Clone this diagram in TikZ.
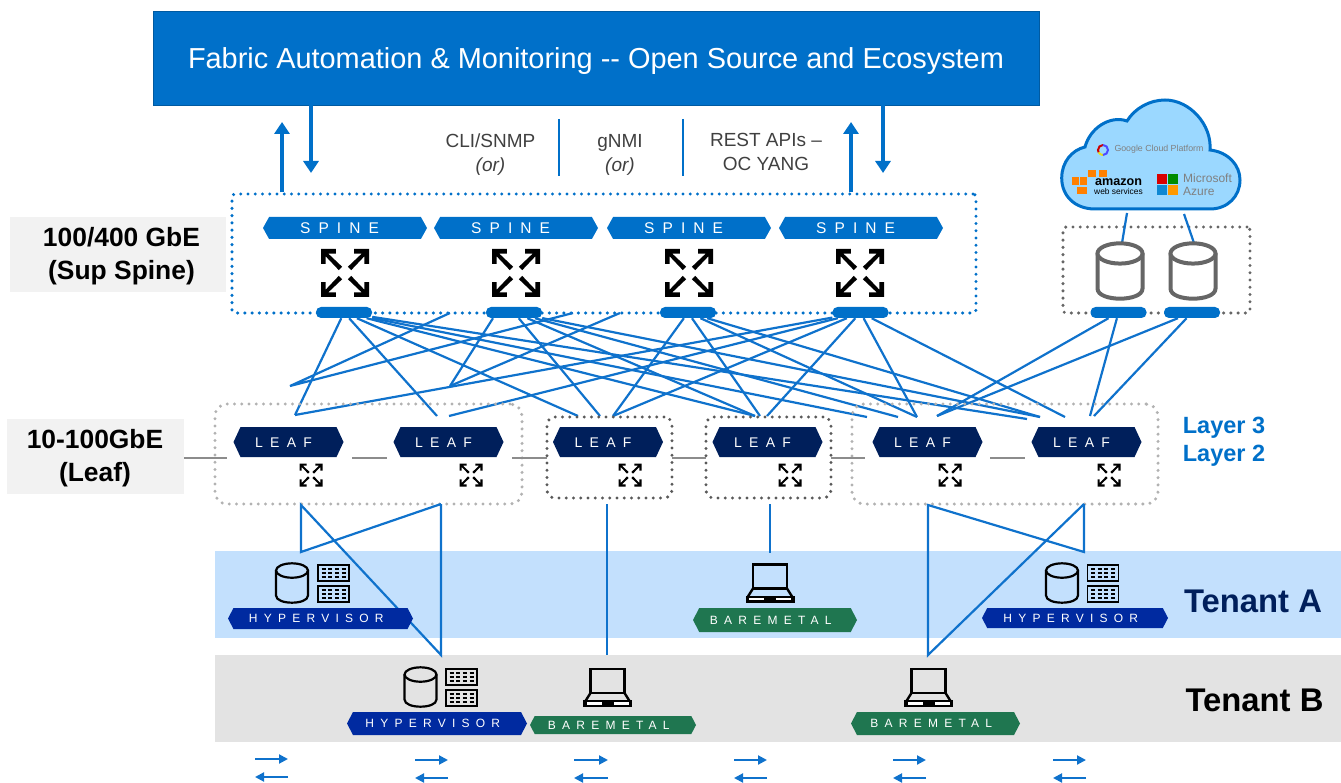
\documentclass[tikz,border=0pt]{standalone}
\usepackage{fontspec}
\usepackage{xcolor}
\setmainfont{Liberation Sans}
\newfontfamily\tagfont[LetterSpace=52]{Liberation Sans}
\usetikzlibrary{shapes.symbols, arrows.meta, positioning, calc}
\definecolor{fabblue}{HTML}{0070C9}
\definecolor{linkblue}{HTML}{0F72CC}
\definecolor{leafnavy}{HTML}{001F5B}
\definecolor{hyperblue}{HTML}{002AA0}
\definecolor{metalgreen}{HTML}{1F7650}
\definecolor{tenantablue}{HTML}{C3E0FD}
\definecolor{tenantbgray}{HTML}{E3E3E3}
\definecolor{labelgray}{HTML}{F2F2F2}
\definecolor{textgray}{HTML}{404040}
\definecolor{cloudblue}{HTML}{9BD8FF}
\newcommand{\expandhead}{(-1,-1) -- (-.38,-1) -- (-.38,-.81) -- (-.70,-.81) -- (-.12,-.26) -- (-.26,-.12) -- (-.81,-.70) -- (-.81,-.38) -- (-1,-.38) -- cycle}
\tikzset{
    expand/.pic={
        \fill \expandhead;
        \fill[xscale=-1] \expandhead;
        \fill[yscale=-1] \expandhead;
        \fill[xscale=-1,yscale=-1] \expandhead;
    },
    drum/.pic={
        \draw[pic actions] (-1,-.78) -- (-1,.78) .. controls (-1,1.38) and (1,1.38) .. (1,.78) -- (1,-.78);
        \draw[pic actions] (0,-.78) ellipse (1 and .45);
    },
    rackunit/.pic={
        \draw[line width=1.8pt] (-15.5,-8) rectangle (15.5,8);
        \draw[line width=1.7pt, dash pattern=on 4pt off 2.67pt] (-12,-4) -- (12,-4);
        \draw[line width=1.7pt, dash pattern=on 4pt off 2.67pt] (-12,0) -- (12,0);
        \draw[line width=1.7pt, dash pattern=on 4pt off 2.67pt] (-12,4) -- (12,4);
    },
    laptop/.pic={
        \draw[line width=2.8pt] (-17,-18.5) rectangle (17,5.5);
        \draw[line width=2.4pt] (-17,5.5) -- (-23,15);
        \draw[line width=2.4pt] (17,5.5) -- (23,15);
        \fill (-24.5,12.5) rectangle (24.5,19.5);
        \fill[white] (-21,14.5) rectangle (-6,17);
        \fill[white] (6,14.5) rectangle (21,17);
    }
}
\begin{document}
\begin{tikzpicture}[
    x=1pt, y=-1pt,
    tag/.style={signal, signal to=east and west, fill=#1, text=white, inner sep=0pt, text depth=0pt, execute at end node={\hspace{.7em}}},
    spinetag/.style={tag=fabblue, minimum width=164pt, minimum height=22pt, signal pointer angle=122, text height=11.1pt, font=\fontsize{15.5}{16}\tagfont},
    leaftag/.style={tag=leafnavy, minimum width=110pt, minimum height=30pt, signal pointer angle=130, text height=10pt, font=\fontsize{14}{15}\tagfont},
    hypertag/.style={tag=hyperblue, signal pointer angle=125, text height=8.6pt, font=\fontsize{12}{13}\tagfont},
    metaltag/.style={tag=metalgreen, signal pointer angle=125, text height=8.6pt, font=\fontsize{12}{13}\tagfont},
    pad/.style={rectangle, rounded corners=5pt, fill=fabblue, minimum width=56pt, minimum height=11pt, inner sep=0pt},
    dotbox/.style={rectangle, rounded corners=#1, line cap=round, dash pattern=on 0pt off 7.25pt, line width=3.4pt, inner sep=0pt},
    side/.style={rectangle, fill=labelgray, inner sep=0pt},
    sidetext/.style={inner sep=0pt, font=\fontsize{26.4}{33}\selectfont\bfseries, align=center},
    band/.style={rectangle, fill=#1, minimum width=1126pt, inner sep=0pt, minimum height=87pt},
    proto/.style={text=textgray, font=\fontsize{19}{24}\selectfont, align=center},
    link/.style={draw=linkblue, line width=2.2pt},
    isl/.style={draw=gray!90, line width=2pt},
    bigarrow/.style={draw=fabblue, line width=3.5pt, -{Triangle[length=12pt, width=15pt]}},
    smallarrow/.style={draw=linkblue, line width=2pt, -{Triangle[length=9pt, width=9pt]}}
]
\useasboundingbox (0,0) rectangle (1341,783);

% Fabric automation
\node[rectangle, fill=fabblue, draw=fabblue!80!black, minimum width=886pt, minimum height=94pt, text=white, text height=20.8pt, text depth=0pt, font=\fontsize{28.9}{30}\selectfont] (fabric) at (596,58) {Fabric Automation \& Monitoring -{}- Open Source and Ecosystem};
\coordinate (upa) at (282,122);
\coordinate (upb) at (851,122);
\coordinate (downa) at (311,173);
\coordinate (downb) at (883,173);

% Protocols
\node[proto] (cli) at (490.5,154.5) {CLI/SNMP\\\textit{(or)}};
\node[proto] (gnmi) at (620,154.5) {gNMI\\\textit{(or)}};
\node[proto] (rest) at (766,152) {REST APIs --\\OC YANG};
\coordinate (sepa) at (559,119);
\coordinate (sepb) at (559,176);
\coordinate (sepc) at (683,119);
\coordinate (sepd) at (683,176);
\draw[draw=fabblue, line width=2pt] (sepa) -- (sepb);
\draw[draw=fabblue, line width=2pt] (sepc) -- (sepd);

% Side labels
\node[side, minimum width=216pt, minimum height=75pt] (suplabel) at (118,254.5) {};
\node[sidetext] (suptext) at (121.5,256) {100/400 GbE\\(Sup Spine)};
\node[side, minimum width=177pt, minimum height=75pt] (leaflabel) at (95.5,456.5) {};
\node[sidetext] (leaftext) at (95,458.5) {10-100GbE\\(Leaf)};

% Spine
\node[dotbox=3pt, draw=fabblue, minimum width=744pt, minimum height=119pt] (spinefab) at (604,253.5) {};
\draw[bigarrow] (spinefab.north -| upa) -- (upa);
\draw[bigarrow] (spinefab.north -| upb) -- (upb);
\draw[bigarrow] (fabric.south -| downa) -- (downa);
\draw[bigarrow] (fabric.south -| downb) -- (downb);
\node[spinetag] (spinea) at (345,228) {SPINE};
\node[spinetag] (spineb) at (516,228) {SPINE};
\node[spinetag] (spinec) at (689,228) {SPINE};
\node[spinetag] (spined) at (861,228) {SPINE};
\pic[scale=24] at (345,273) {expand};
\pic[scale=24] at (516,273) {expand};
\pic[scale=24] at (689,273) {expand};
\pic[scale=24] at (860,273) {expand};
\node[pad] (pada) at (344,312.5) {};
\node[pad] (padb) at (514,312.5) {};
\node[pad] (padc) at (688,312.5) {};
\node[pad] (padd) at (860.5,312.5) {};

% Cloud
\draw[fill=cloudblue, draw=fabblue, line width=3pt] (1095,209) .. controls (1075,209) and (1061.7,196) .. (1061.7,178) .. controls (1061.7,162) and (1072,150) .. (1085,147) .. controls (1090,128) and (1110,115) .. (1127,121) .. controls (1135,108) and (1150,100) .. (1165,100) .. controls (1190,100) and (1212,125) .. (1210,150) .. controls (1228,152) and (1240,165) .. (1240,180) .. controls (1240,196) and (1228,209) .. (1210,209) -- cycle;
\draw[line width=2pt, red!80!black] (1103,145) arc[start angle=270, end angle=150, radius=5];
\draw[line width=2pt, yellow!90!black] (1103,155) arc[start angle=90, end angle=150, radius=5];
\draw[line width=2pt, blue!70] (1103,145) arc[start angle=270, end angle=450, radius=5];
\node[text=gray, font=\fontsize{8.8}{10}\selectfont, inner sep=0pt] (google) at (1159,149) {Google Cloud Platform};
\fill[orange] (1088,170) rectangle (1096,177);
\fill[orange] (1099,170) rectangle (1107,177);
\fill[orange] (1072,177) rectangle (1079,185);
\fill[orange] (1080,177) rectangle (1087,185);
\fill[orange] (1077,187) rectangle (1087,194);
\node[font=\fontsize{12.6}{13}\selectfont\bfseries, inner sep=0pt] (amazon) at (1118.5,182) {amazon};
\node[font=\fontsize{8.4}{9}\selectfont, inner sep=0pt] (aws) at (1118.5,192) {web services};
\fill[red!85!black] (1157,174) rectangle (1167,184);
\fill[green!55!black] (1168,174) rectangle (1178,184);
\fill[cyan!70!blue] (1157,185) rectangle (1167,195);
\fill[orange!80!yellow] (1168,185) rectangle (1178,195);
\node[text=gray, font=\fontsize{12}{13}\selectfont, align=left, inner sep=0pt, anchor=west] (azure) at (1183,184.5) {Microsoft\\Azure};

% Storage
\node[dotbox=3pt, draw=gray!120, minimum width=187pt, minimum height=86pt] (storebox) at (1156.5,270) {};
\coordinate (clouda) at (1127,213);
\coordinate (cloudb) at (1184,214);
\coordinate (drumtopa) at (1122,243);
\coordinate (drumtopb) at (1194,243);
\draw[link] (clouda) -- (drumtopa);
\draw[link] (cloudb) -- (drumtopb);
\pic[scale=22.5, draw=black!60, fill=white, line width=4pt] at (1120,271) {drum};
\pic[scale=22.5, draw=black!60, fill=white, line width=4pt] at (1193,271) {drum};
\node[pad] (pade) at (1118.5,312.5) {};
\node[pad] (padf) at (1192,312.5) {};

% Spine to leaf mesh
\coordinate (ea) at (290,386);
\coordinate (eb) at (295,415);
\coordinate (ec) at (450,386);
\coordinate (ed) at (449,416);
\coordinate (ee) at (437,416);
\coordinate (ef) at (578,416);
\coordinate (eg) at (600,416);
\coordinate (eh) at (613,416);
\coordinate (ei) at (755,416);
\coordinate (ej) at (760,416);
\coordinate (ek) at (767,416);
\coordinate (el) at (867,417);
\coordinate (em) at (898,417);
\coordinate (en) at (917,417);
\coordinate (eo) at (937,416);
\coordinate (ep) at (1027,419);
\coordinate (eq) at (1040,417);
\coordinate (er) at (1065,417);
\coordinate (es) at (1090,416);
\coordinate (et) at (1094,416);
\coordinate (ua) at (450,313);
\coordinate (ub) at (573,313);
\coordinate (uc) at (620,313);
\draw[link] (pada) -- (eb);
\draw[link] (pada) -- (ee);
\draw[link] (pada) -- (ef);
\draw[link] (pada) -- (ei);
\draw[link] (pada) -- (el);
\draw[link] (pada) -- (ep);
\draw[link] ($(padb.south)+(-21,0)$) -- (ec);
\draw[link] (padb) -- (eg);
\draw[link] (padb) -- (ei);
\draw[link] (padb) -- (em);
\draw[link] (padb) -- (eq);
\draw[link] (padc) -- (eh);
\draw[link] (padc) -- (ej);
\draw[link] (padc) -- (en);
\draw[link] (padc) -- (eq);
\draw[link] (padd) -- (eb);
\draw[link] (padd) -- (ed);
\draw[link] (padd) -- (eh);
\draw[link] (padd) -- (ek);
\draw[link] (padd) -- (en);
\draw[link] (padd) -- (er);
\draw[link] (ua) -- (ea) -- (ub);
\draw[link] (uc) -- (ec);
\draw[link] (pade) -- (eo);
\draw[link] (pade) -- (es);
\draw[link] (padf) -- (eo);
\draw[link] (padf) -- (et);

% Leaf
\node[dotbox=12pt, draw=gray!60, minimum width=307pt, minimum height=100pt] (vpca) at (368.5,454) {};
\node[dotbox=8pt, draw=black!65, minimum width=125pt, minimum height=81pt] (singlea) at (609.5,457.5) {};
\node[dotbox=8pt, draw=black!65, minimum width=125pt, minimum height=81pt] (singleb) at (768.5,457.5) {};
\node[dotbox=12pt, draw=gray!60, minimum width=306pt, minimum height=100pt] (vpcb) at (1005,454) {};
\node[leaftag] (leafa) at (288.5,442) {LEAF};
\node[leaftag] (leafb) at (448.5,442) {LEAF};
\node[leaftag] (leafc) at (608,442) {LEAF};
\node[leaftag] (leafd) at (767.5,442) {LEAF};
\node[leaftag] (leafe) at (927.5,442) {LEAF};
\node[leaftag] (leaff) at (1086.5,442) {LEAF};
\pic[scale=11.5] at (311,475) {expand};
\pic[scale=11.5] at (471,475) {expand};
\pic[scale=11.5] at (630,475) {expand};
\pic[scale=11.5] at (790,475) {expand};
\pic[scale=11.5] at (950,475) {expand};
\pic[scale=11.5] at (1109,475) {expand};
\coordinate (isla) at (227,458);
\coordinate (islb) at (352,458);
\coordinate (islc) at (387,458);
\coordinate (isld) at (512,458);
\coordinate (isle) at (547,458);
\coordinate (islf) at (672,458);
\coordinate (islg) at (706,458);
\coordinate (islh) at (831,458);
\coordinate (isli) at (865,458);
\coordinate (islj) at (990,458);
\coordinate (islk) at (1025,458);
\draw[isl] (leaflabel.east |- isla) -- (isla);
\draw[isl] (islb) -- (islc);
\draw[isl] (isld) -- (isle);
\draw[isl] (islf) -- (islg);
\draw[isl] (islh) -- (isli);
\draw[isl] (islj) -- (islk);
\node[text=fabblue, font=\fontsize{23.5}{28}\selectfont\bfseries, align=center] (layers) at (1224,442) {Layer 3\\Layer 2};

% Tenants
\node[band=tenantablue] (tenanta) at (778,594) {};
\node[band=tenantbgray] (tenantb) at (778,698.5) {};
\node[text=leafnavy, font=\fontsize{32.8}{34}\selectfont\bfseries] (tenantalabel) at (1253,601) {Tenant A};
\node[font=\fontsize{32.8}{34}\selectfont\bfseries] (tenantblabel) at (1254.5,700) {Tenant B};

% Leaf to host links
\coordinate (ha) at (301,505);
\coordinate (hb) at (441,504);
\coordinate (hc) at (301,552);
\coordinate (hd) at (441,655);
\coordinate (he) at (607,504);
\coordinate (hf) at (607,655);
\coordinate (hg) at (770,504);
\coordinate (hh) at (770,553);
\coordinate (hi) at (928,505);
\coordinate (hj) at (1084,504);
\coordinate (hk) at (1084,552);
\coordinate (hl) at (928,655);
\draw[link] (hb) -- (hc) -- (ha) -- (hd) -- (hb);
\draw[link] (he) -- (hf);
\draw[link] (hg) -- (hh);
\draw[link] (hj) -- (hk) -- (hi) -- (hl) -- (hj);

% Hosts
\pic[scale=16, draw=black, line width=2.2pt] at (292,583) {drum};
\pic at (333.5,573) {rackunit};
\pic at (333.5,594) {rackunit};
\node[hypertag, minimum width=185pt, minimum height=21pt] (hypera) at (320.5,618.5) {HYPERVISOR};
\pic at (770,583) {laptop};
\node[metaltag, minimum width=164pt, minimum height=24pt] (metala) at (775,620) {BAREMETAL};
\pic[scale=16, draw=black, line width=2.2pt] at (1062,583) {drum};
\pic at (1103,573) {rackunit};
\pic at (1103,594) {rackunit};
\node[hypertag, minimum width=186pt, minimum height=20pt] (hyperb) at (1075,618) {HYPERVISOR};
\pic[scale=16, draw=black, line width=2.2pt] at (420.5,687) {drum};
\pic at (461.5,677) {rackunit};
\pic at (461.5,698) {rackunit};
\node[hypertag, minimum width=180pt, minimum height=23pt] (hyperc) at (437,723.5) {HYPERVISOR};
\pic at (607.5,687.5) {laptop};
\node[metaltag, minimum width=166pt, minimum height=18pt] (metalb) at (613,725) {BAREMETAL};
\pic at (928.5,687.5) {laptop};
\node[metaltag, minimum width=169pt, minimum height=23pt] (metalc) at (935.5,723.5) {BAREMETAL};

% East-west arrows
\coordinate (wa) at (255,759);
\coordinate (wb) at (288,759);
\coordinate (wc) at (255,777);
\coordinate (wd) at (288,777);
\draw[smallarrow] (wa) -- (wb);
\draw[smallarrow] (wd) -- (wc);
\coordinate (we) at (415,760);
\coordinate (wf) at (448,760);
\coordinate (wg) at (415,778);
\coordinate (wh) at (448,778);
\draw[smallarrow] (we) -- (wf);
\draw[smallarrow] (wh) -- (wg);
\coordinate (wi) at (574,760);
\coordinate (wj) at (608,760);
\coordinate (wk) at (574,778);
\coordinate (wl) at (608,778);
\draw[smallarrow] (wi) -- (wj);
\draw[smallarrow] (wl) -- (wk);
\coordinate (wm) at (734,760);
\coordinate (wn) at (767,760);
\coordinate (wo) at (734,778);
\coordinate (wp) at (767,778);
\draw[smallarrow] (wm) -- (wn);
\draw[smallarrow] (wp) -- (wo);
\coordinate (wq) at (893,760);
\coordinate (wr) at (926,760);
\coordinate (ws) at (893,778);
\coordinate (wt) at (926,778);
\draw[smallarrow] (wq) -- (wr);
\draw[smallarrow] (wt) -- (ws);
\coordinate (wu) at (1053,760);
\coordinate (wv) at (1086,760);
\coordinate (ww) at (1053,778);
\coordinate (wx) at (1086,778);
\draw[smallarrow] (wu) -- (wv);
\draw[smallarrow] (wx) -- (ww);

\end{tikzpicture}
\end{document}
